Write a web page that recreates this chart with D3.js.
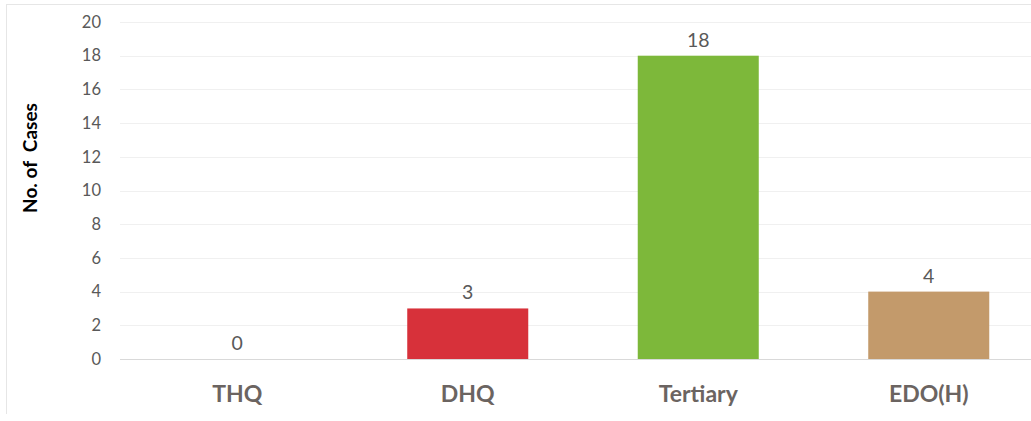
<!DOCTYPE html>
<html><head><meta charset="utf-8">
<script src="https://cdn.jsdelivr.net/npm/d3@7"></script>
<style>body{margin:0;background:#fff}svg{display:block}</style>
</head><body>
<svg id="c" width="1031" height="421"></svg>
<script>
const categories = ["THQ", "DHQ", "Tertiary", "EDO(H)"];
const values = [0, 3, 18, 4];
const colors = ["#7f7f7f", "#D7313A", "#7DB83A", "#C39A6B"];
const yTicks = [0, 2, 4, 6, 8, 10, 12, 14, 16, 18, 20];
const yTitle = "No. of  Cases";

const svg = d3.select("#c");
const font = "Lato, 'Open Sans', sans-serif";
// frame
svg.append("line").attr("x1",6).attr("x2",1031).attr("y1",4.5).attr("y2",4.5).attr("stroke","#e6e6e6");
svg.append("line").attr("x1",6.5).attr("x2",6.5).attr("y1",4).attr("y2",414).attr("stroke","#e6e6e6");

const x = d3.scaleBand().domain(categories).range([122, 1044]).paddingInner(0.475).paddingOuter(0.2375);
const y = d3.scaleLinear().domain([0, 20]).range([359, 22]);

const grid = svg.append("g");
grid.selectAll("line").data(yTicks).join("line")
  .attr("x1", 120).attr("x2", 1031)
  .attr("y1", d => Math.round(y(d)) + 0.5).attr("y2", d => Math.round(y(d)) + 0.5)
  .attr("stroke", d => d === 0 ? "#d9d9d9" : "#f0f0f0");

const yAxis = d3.axisLeft(y).tickValues(yTicks).tickSize(0).tickPadding(0);
const ga = svg.append("g").attr("transform", "translate(101,0)").call(yAxis);
ga.select(".domain").remove();
ga.selectAll("text").attr("font-family", font).attr("font-size", 16.5).attr("fill", "#595959");

svg.append("g").selectAll("rect").data(values).join("rect")
  .attr("x", (d,i) => x(categories[i])).attr("width", x.bandwidth())
  .attr("y", d => y(d)).attr("height", d => y(0) - y(d))
  .attr("fill", (d,i) => colors[i]);

svg.append("g").selectAll("text").data(values).join("text")
  .attr("x", (d,i) => x(categories[i]) + x.bandwidth()/2)
  .attr("y", d => y(d) - 9)
  .attr("text-anchor", "middle").attr("font-family", font).attr("font-size", 19.5)
  .attr("fill", "#595959").text(d => d);

const xAxis = d3.axisBottom(x).tickSize(0).tickPadding(0);
const gx = svg.append("g").attr("transform", "translate(0,386)").call(xAxis);
gx.select(".domain").remove();
gx.selectAll("text").attr("dy", "0.71em").attr("font-family", font).attr("font-size", 23)
  .attr("font-weight", "bold").attr("fill", "#6b6461");

svg.append("text").attr("transform", "translate(37,158) rotate(-90)")
  .attr("text-anchor", "middle").attr("font-family", font).attr("font-size", 19)
  .attr("font-weight", "bold").attr("fill", "#000").style("white-space", "pre").text(yTitle);
</script>
</body></html>
